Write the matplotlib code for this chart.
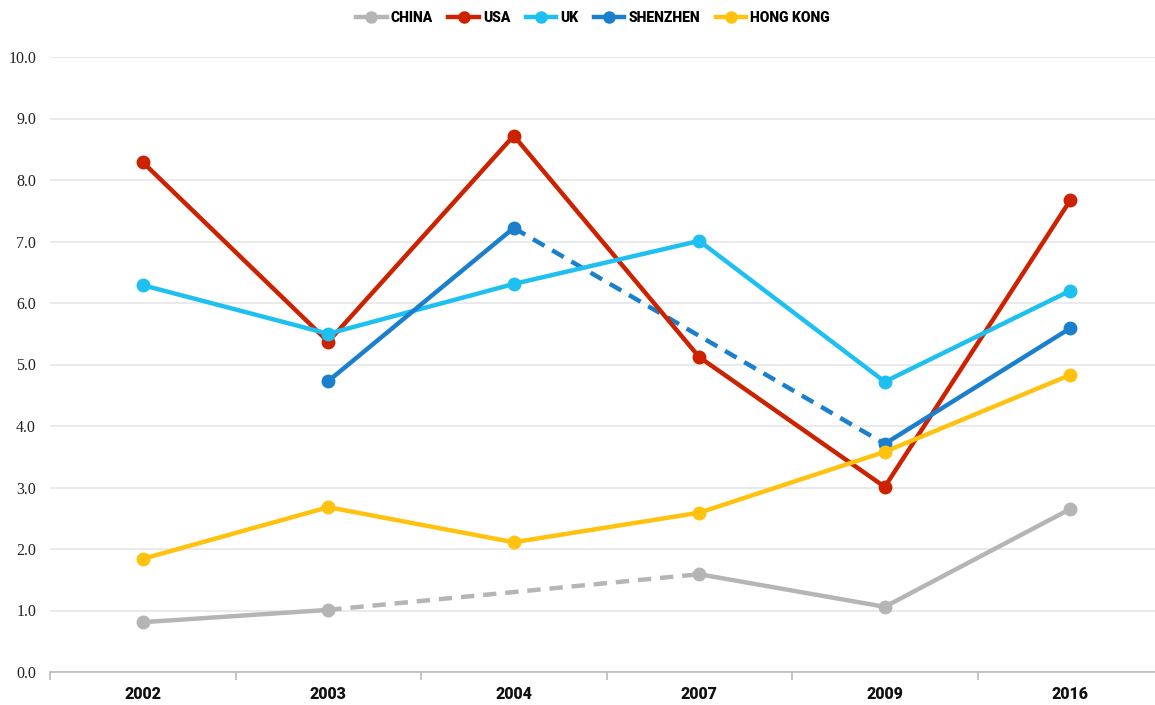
import numpy as np
import matplotlib
matplotlib.use("Agg")
import matplotlib.pyplot as plt
from matplotlib.lines import Line2D

years = ["2002", "2003", "2004", "2007", "2009", "2016"]
china = [0.81, 1.01, None, 1.59, 1.06, 2.65]
usa = [8.29, 5.37, 8.72, 5.12, 3.01, 7.67]
uk = [6.29, 5.50, 6.31, 7.01, 4.72, 6.20]
shenzhen = [None, 4.73, 7.22, None, 3.71, 5.59]
hong_kong = [1.84, 2.68, 2.11, 2.59, 3.58, 4.83]

series_names = ["CHINA", "USA", "UK", "SHENZHEN", "HONG KONG"]
series_values = [china, usa, uk, shenzhen, hong_kong]
colors = ["#b5b5b5", "#cc2200", "#1ec0f0", "#1a7fcc", "#ffc20e"]

cond = ["Roboto", "DejaVu Sans"]
serif = "Liberation Serif"

fig = plt.figure(figsize=(11.55, 7.05), dpi=100)
ax = fig.add_axes([50 / 1155, 1 - 672 / 705, 1113 / 1155, (672 - 57) / 705])

x = np.arange(len(years))
for name, vals, c in zip(series_names, series_values, colors):
    y = np.array([np.nan if v is None else v for v in vals], dtype=float)
    ax.plot(x, y, color=c, lw=3.2, marker="o", ms=9, solid_capstyle="round", zorder=3)
    valid = np.where(~np.isnan(y))[0]
    for a, b in zip(valid[:-1], valid[1:]):
        if b - a > 1:
            ax.plot([x[a], x[b]], [y[a], y[b]], color=c, lw=3.2, ls=(0, (3, 2)), zorder=2.5)

ax.set_xlim(-0.5, len(years) - 0.5)
ax.set_ylim(0, 10)
ax.set_yticks(np.arange(0, 11, 1))
ax.set_yticklabels([f"{v:.1f}" for v in range(11)], fontfamily=serif, fontsize=11.5, color="#222222")
ax.yaxis.grid(True, color="#e6e6e6", lw=1.2)
ax.set_axisbelow(True)
ax.tick_params(axis="y", length=0, pad=10)

ax.set_xticks(x)
ax.set_xticklabels(years, fontfamily=cond, fontweight="heavy", fontsize=11.5, color="#111111")
ax.set_xticks(np.arange(-0.5, len(years), 1), minor=True)
ax.tick_params(axis="x", which="major", length=0, pad=10)
ax.tick_params(axis="x", which="minor", length=6, color="#bbbbbb", width=1.2)

for s in ["top", "right", "left"]:
    ax.spines[s].set_visible(False)
ax.spines["bottom"].set_color("#bbbbbb")
ax.spines["bottom"].set_linewidth(1.2)

handles = [Line2D([0], [0], color=c, lw=3.2, marker="o", ms=8) for c in colors]
fig.legend(handles, series_names, loc="center", bbox_to_anchor=(593 / 1155, 1 - 18 / 705), ncol=5,
           frameon=False, handlelength=2.2, handletextpad=0.3, columnspacing=1.1,
           prop={"family": cond, "weight": "heavy", "size": 10})

fig.savefig("out.png", dpi=100)
